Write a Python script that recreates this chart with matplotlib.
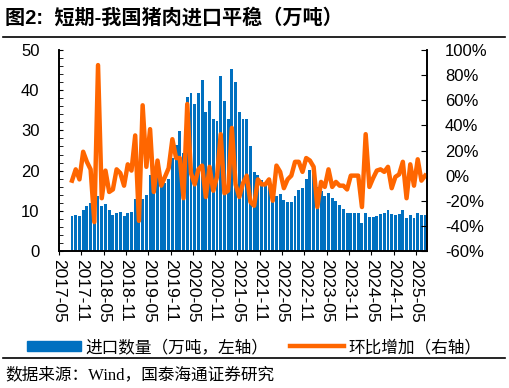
import numpy as np
import matplotlib
matplotlib.use('Agg')
import matplotlib.pyplot as plt
from matplotlib.patches import Patch
from matplotlib.lines import Line2D

plt.rcParams['font.family'] = ['Liberation Sans', 'Noto Sans CJK SC']

# monthly data, 2017-08 .. 2025-07
first_month = 3  # months after 2017-05
imports = [8.6, 9.0, 8.7, 10.1, 11.3, 11.9, 7.5, 13.8, 11.3, 11.6, 10.1, 9.0,
           9.4, 9.7, 8.8, 9.5, 9.8, 12.9, 8.2, 12.9, 13.9, 19.0, 16.5, 18.5,
           17.0, 16.8, 17.9, 23.1, 26.3, 29.9, 24.5, 38.4, 39.2, 36.6, 39.2, 42.5,
           34.7, 37.3, 32.8, 32.4, 43.6, 37.3, 32.8, 45.2, 42.1, 34.7, 32.8, 32.8,
           26.1, 19.7, 19.0, 17.7, 16.4, 16.0, 12.7, 13.8, 14.2, 12.7, 12.3, 12.3,
           13.7, 15.2, 15.7, 17.9, 20.1, 21.4, 16.0, 15.0, 13.7, 14.4, 13.1, 12.4,
           11.4, 10.5, 9.4, 9.4, 9.4, 9.4, 7.0, 9.4, 8.5, 8.4, 8.8, 9.2,
           9.4, 10.1, 9.1, 9.0, 9.1, 10.1, 8.3, 9.0, 8.3, 9.4, 9.0, 9.0]
mom = [-4, 5, -3, 19, 11, 5, -37, 88, -18, 4, -13, -11,
       5, 2, -8, 9, 4, 32, -36, 56, 7, 37, -13, 12,
       -8, -1, 6, 29, 14, 14, -18, 57, 2, -7, 5, 8,
       -17, 7, -12, -1, 33, -14, -12, 38, -7, -17, -6, 0,
       -21, -24, -3, -7, -7, -3, -20, 8, 3, -10, -3, 0,
       11, 11, 3, 14, 12, 7, -25, -5, -9, 5, -9, -5,
       -8, -8, -11, 0, 0, 0, -25, 33, -9, -2, 4, 5,
       3, 7, -10, -1, 1, 11, -18, 9, -8, 13, -4, 0]
tick_labels = ['2017-05', '2017-11', '2018-05', '2018-11', '2019-05', '2019-11',
               '2020-05', '2020-11', '2021-05', '2021-11', '2022-05', '2022-11',
               '2023-05', '2023-11', '2024-05', '2024-11', '2025-05']
pct_ticks = [-60, -40, -20, 0, 20, 40, 60, 80, 100]

blue = '#0070C0'
orange = '#FF6600'
W, H = 509, 388

x = np.arange(len(imports)) + first_month + 0.5

fig = plt.figure(figsize=(W/100, H/100), dpi=100)
ax = fig.add_axes([59/W, 1-251/H, (427-59)/W, (251-50)/H])
ax.bar(x, imports, width=0.78, color=blue, zorder=1)
ax.set_xlim(0, 99)
ax.set_ylim(0, 50)
ax.set_yticks(range(0, 51, 10))
ax.set_yticks(range(0, 51, 2), minor=True)
ax.tick_params(axis='y', which='both', direction='in', length=3, pad=14, labelsize=12)
ax.set_xticks(range(0, 97, 6))
ax.set_xticklabels(tick_labels, rotation=-90, fontsize=12.5)
ax.tick_params(axis='x', direction='out', length=3, pad=3)
ax.spines['top'].set_visible(False)

ax2 = ax.twinx()
ax2.plot(x, mom, color=orange, lw=3.2, solid_joinstyle='round')
ax2.set_ylim(-60, 100)
ax2.set_yticks(pct_ticks)
ax2.set_yticklabels([f'{p}%' for p in pct_ticks])
ax2.tick_params(axis='y', direction='in', length=4, pad=13, labelsize=12)
ax2.spines['top'].set_visible(False)
for a in (ax, ax2):
    for s in a.spines.values():
        s.set_linewidth(1.2)

fig.text(5/W, 1-18/H, '图2:  短期-我国猪肉进口平稳（万吨）', fontsize=14.5,
         fontweight='bold', va='center', ha='left')
fig.add_artist(Line2D([3/W, 505/W], [1-37/H]*2, color='black', lw=1.2))

handles = [Patch(color=blue), Line2D([], [], color=orange, lw=3.2)]
fig.legend(handles, ['进口数量（万吨，左轴）', '环比增加（右轴）'], loc='center',
           bbox_to_anchor=(0.5, 1-347/H), ncol=2, frameon=False, fontsize=12,
           handlelength=3.2, handleheight=0.6, handletextpad=0.3, columnspacing=1.3)

fig.add_artist(Line2D([3/W, 505/W], [1-358/H]*2, color='black', lw=1.2))
fig.text(5/W, 1-375/H, '数据来源：Wind，国泰海通证券研究', fontsize=12,
         va='center', ha='left', family=['Liberation Serif', 'Noto Sans CJK SC'])

fig.savefig('out.png', dpi=100)
